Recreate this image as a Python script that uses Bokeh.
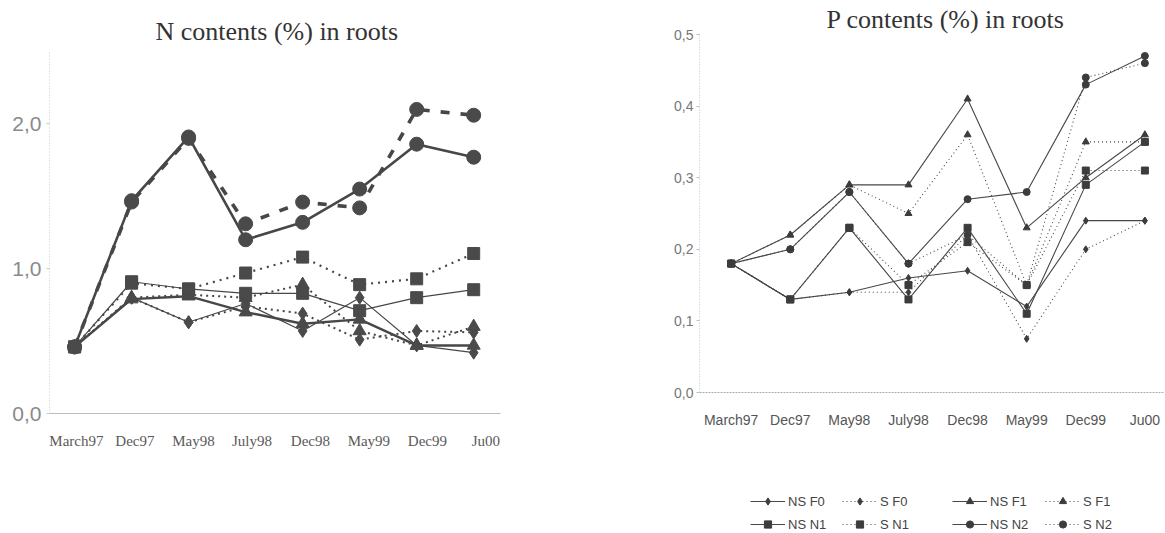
from bokeh.plotting import figure
from bokeh.layouts import row, column
from bokeh.models import (Range1d, LinearAxis, FixedTicker, CustomJSTickFormatter,
                          Legend, LegendItem)
from bokeh.embed import file_html
from bokeh.resources import INLINE

# sampling dates (category axis)
months = ["March97", "Dec97", "May98", "July98", "Dec98", "May99", "Dec99", "Ju00"]

# N contents (%) in roots
n_ns_f0 = [0.46, 0.80, 0.63, 0.76, 0.57, 0.80, 0.47, 0.42]
n_s_f0 = [0.46, 0.80, 0.63, 0.74, 0.69, 0.51, 0.57, 0.56]
n_ns_f1 = [0.46, 0.79, 0.81, 0.70, 0.62, 0.65, 0.47, 0.47]
n_s_f1 = [0.46, 0.80, 0.82, 0.80, 0.89, 0.57, 0.47, 0.60]
n_ns_n1 = [0.46, 0.91, 0.86, 0.83, 0.83, 0.71, 0.80, 0.855]
n_s_n1 = [0.46, 0.90, 0.86, 0.97, 1.08, 0.89, 0.93, 1.105]
n_ns_n2 = [0.46, 1.47, 1.91, 1.20, 1.32, 1.55, 1.86, 1.77]
n_s_n2 = [0.46, 1.46, 1.90, 1.31, 1.46, 1.42, 2.10, 2.06]

# P contents (%) in roots
p_ns_f0 = [0.18, 0.13, 0.14, 0.16, 0.17, 0.12, 0.24, 0.24]
p_s_f0 = [0.18, 0.13, 0.14, 0.14, 0.22, 0.075, 0.20, 0.24]
p_ns_f1 = [0.18, 0.22, 0.29, 0.29, 0.41, 0.23, 0.30, 0.36]
p_s_f1 = [0.18, 0.22, 0.29, 0.25, 0.36, 0.15, 0.35, 0.35]
p_ns_n1 = [0.18, 0.13, 0.23, 0.13, 0.23, 0.11, 0.29, 0.35]
p_s_n1 = [0.18, 0.13, 0.23, 0.15, 0.21, 0.15, 0.31, 0.31]
p_ns_n2 = [0.18, 0.20, 0.28, 0.18, 0.27, 0.28, 0.43, 0.47]
p_s_n2 = [0.18, 0.20, 0.28, 0.18, 0.22, 0.15, 0.44, 0.46]

series_labels = ["NS F0", "S F0", "NS F1", "S F1", "NS N1", "S N1", "NS N2", "S N2"]
series_markers = ["diamond", "diamond", "triangle", "triangle",
                  "square", "square", "circle", "circle"]
n_series = [n_ns_f0, n_s_f0, n_ns_f1, n_s_f1, n_ns_n1, n_s_n1, n_ns_n2, n_s_n2]
p_series = [p_ns_f0, p_s_f0, p_ns_f1, p_s_f1, p_ns_n1, p_s_n1, p_ns_n2, p_s_n2]

x = list(range(len(months)))

INK = "#474747"
comma_fmt = "return tick.toFixed(1).replace('.', ',');"
month_fmt = "const i = Math.round(tick); return (i >= 0 && i < labels.length) ? labels[i] : '';"


def clean(p):
    p.outline_line_color = None
    p.xgrid.visible = False
    p.ygrid.visible = False
    p.background_fill_color = "white"
    p.border_fill_color = "white"


# ---------------- N chart ----------------
p1 = figure(width=583, height=533, x_range=Range1d(-0.44, 7.47), y_range=Range1d(0, 2.5),
            output_backend="svg", toolbar_location=None, x_axis_location=None,
            min_border_left=49, min_border_right=83, min_border_top=51, min_border_bottom=120,
            title="N contents (%) in roots")
clean(p1)
p1.title.text_font = "Liberation Serif"
p1.title.text_font_size = "26px"
p1.title.text_font_style = "normal"
p1.title.text_color = "#333333"
p1.title.align = "left"
p1.title.offset = 106
p1.title.standoff = 12

ya = p1.yaxis[0]
ya.ticker = FixedTicker(ticks=[0, 1, 2])
ya.formatter = CustomJSTickFormatter(code=comma_fmt)
ya.major_label_text_font = "Liberation Sans"
ya.major_label_text_font_size = "21px"
ya.major_label_text_color = "#8a8a8a"
ya.axis_line_color = "#c8c8c8"
ya.axis_line_dash = "1 2"
ya.major_tick_out = 3
ya.major_tick_in = 0
ya.major_tick_line_color = "#c8c8c8"
ya.minor_tick_line_color = None
ya.major_label_standoff = 5

p1.extra_x_ranges = {"labels": Range1d(-0.46, 7.25)}
xa1 = LinearAxis(x_range_name="labels", ticker=FixedTicker(ticks=x),
                 formatter=CustomJSTickFormatter(args=dict(labels=months), code=month_fmt))
xa1.major_label_text_font = "Liberation Serif"
xa1.major_label_text_font_size = "15px"
xa1.major_label_text_color = "#5a5a5a"
xa1.axis_line_color = "#bbbbbb"
xa1.major_tick_line_color = None
xa1.minor_tick_line_color = None
xa1.major_label_standoff = 13
p1.add_layout(xa1, "below")

n_styles = [  # line width, dash, marker size
    (1.2, "solid", 13), (2.0, "2 4", 13), (2.4, "solid", 13), (2.0, "2 4", 13),
    (1.2, "solid", 12), (2.2, "2 5", 12), (2.6, "solid", 14), (3.6, "9 11", 14),
]
for vals, mk, (lw, dash, ms) in zip(n_series, series_markers, n_styles):
    p1.line(x, vals, line_color=INK, line_width=lw, line_dash=dash)
    p1.scatter(x, vals, marker=mk, size=ms, fill_color="#4a4a4a", line_color="#4a4a4a")

# ---------------- P chart ----------------
p2 = figure(width=582, height=450, x_range=Range1d(-0.536, 7.315), y_range=Range1d(0, 0.5),
            output_backend="svg", toolbar_location=None,
            min_border_left=116, min_border_right=2, min_border_top=34, min_border_bottom=58,
            title="P contents (%) in roots")
clean(p2)
p2.title.text_font = "Liberation Serif"
p2.title.text_font_size = "26px"
p2.title.text_font_style = "normal"
p2.title.text_color = "#333333"
p2.title.align = "left"
p2.title.offset = 127
p2.title.standoff = 2

ya2 = p2.yaxis[0]
ya2.ticker = FixedTicker(ticks=[0, 0.1, 0.2, 0.3, 0.4, 0.5])
ya2.formatter = CustomJSTickFormatter(code=comma_fmt)
ya2.major_label_text_font = "Liberation Sans"
ya2.major_label_text_font_size = "14px"
ya2.major_label_text_color = "#777777"
ya2.axis_line_color = "#c0c0c0"
ya2.axis_line_dash = "1 2"
ya2.major_tick_out = 3
ya2.major_tick_in = 0
ya2.major_tick_line_color = "#c0c0c0"
ya2.minor_tick_line_color = None
ya2.major_label_standoff = 3

xa2 = p2.xaxis[0]
xa2.ticker = FixedTicker(ticks=x)
xa2.formatter = CustomJSTickFormatter(args=dict(labels=months), code=month_fmt)
xa2.major_label_text_font = "Liberation Sans"
xa2.major_label_text_font_size = "14px"
xa2.major_label_text_color = "#555555"
xa2.axis_line_color = "#aaaaaa"
xa2.axis_line_dash = "2 1"
xa2.major_tick_line_color = None
xa2.minor_tick_line_color = None
xa2.major_label_standoff = 13

p_dash = ["solid", "1 3", "solid", "1 3", "solid", "1 3", "solid", "1 3"]
for vals, mk, dash in zip(p_series, series_markers, p_dash):
    p2.line(x, vals, line_color=INK, line_width=1.1, line_dash=dash)
    p2.scatter(x, vals, marker=mk, size=7, fill_color="#3c3c3c", line_color="#3c3c3c")

# ---------------- legend strip ----------------
# the column layout lines this frame up with the P chart frame above it
p3 = figure(width=582, height=83, x_range=Range1d(100, 101), y_range=Range1d(100, 101),
            output_backend="svg", toolbar_location=None, x_axis_location=None,
            y_axis_location=None, min_border=0)
clean(p3)

legend_items = []
for vals, mk, dash, lab in zip(p_series, series_markers, p_dash, series_labels):
    r_line = p3.line(x, vals, line_color=INK, line_width=1.1, line_dash=dash)
    r_mark = p3.scatter(x, vals, marker=mk, size=7, fill_color="#3c3c3c", line_color="#3c3c3c")
    legend_items.append(LegendItem(label=lab, renderers=[r_line, r_mark]))

col_x = [51, 143, 253, 346]
for c, lx in enumerate(col_x):
    leg = Legend(items=[legend_items[c], legend_items[c + 4]], location=(lx, 0),
                 orientation="vertical", padding=0, margin=0, spacing=5,
                 glyph_width=35, glyph_height=18, label_height=18, label_standoff=3,
                 label_text_font="Liberation Sans", label_text_font_size="13px",
                 label_text_color="#444444", border_line_color=None,
                 background_fill_alpha=0)
    p3.add_layout(leg)

layout = row(p1, column(p2, p3))
open("out.html", "w").write(file_html(layout, INLINE))
